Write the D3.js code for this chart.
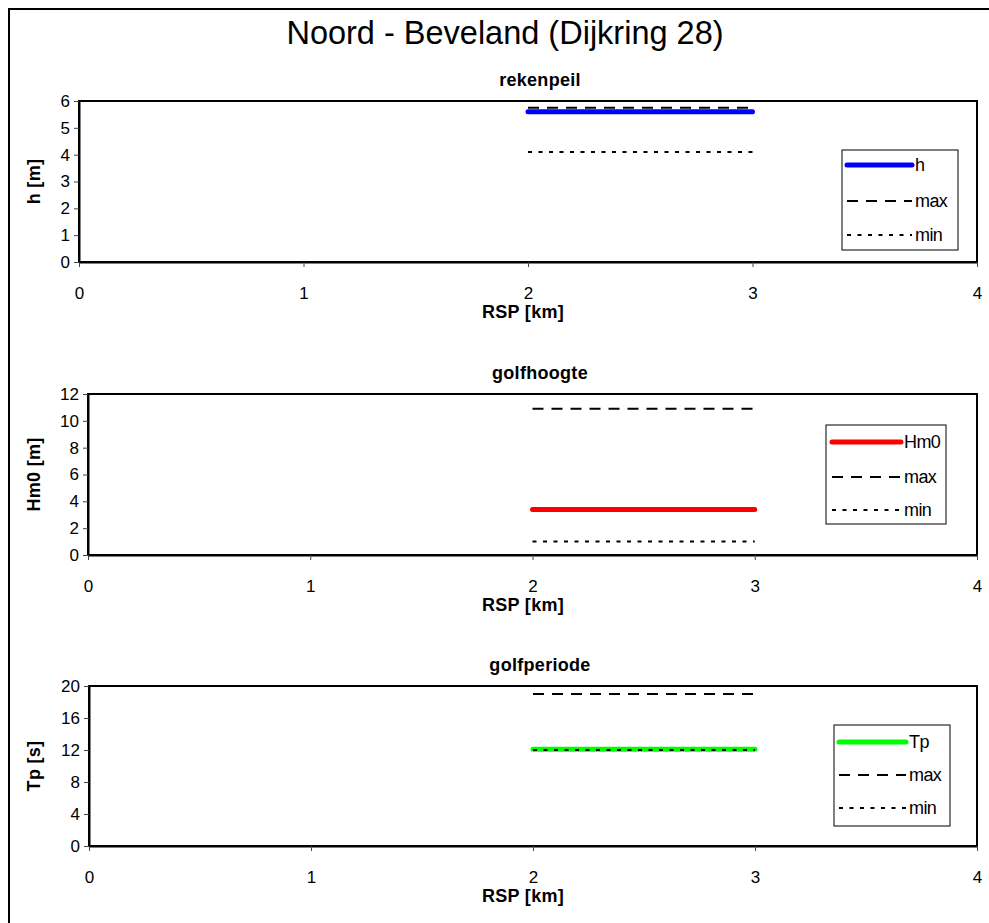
<!DOCTYPE html>
<html>
<head>
<meta charset="utf-8">
<script src="https://cdn.jsdelivr.net/npm/d3@7"></script>
<style>
  html, body { margin: 0; padding: 0; background: #fff; }
  svg { display: block; font-family: Arial, "Liberation Sans", sans-serif; }
</style>
</head>
<body>
<svg id="chart" width="989" height="923"></svg>
<script>
// Distance along the dike section (RSP, km)
const rsp = [2, 3];

// Rekenpeil (water level, m)
const hValues = [5.6, 5.6];
const hMax = [5.75, 5.75];
const hMin = [4.1, 4.1];

// Golfhoogte (significant wave height, m)
const hm0Values = [3.4, 3.4];
const hm0Max = [10.9, 10.9];
const hm0Min = [1.0, 1.0];

// Golfperiode (peak period, s)
const tpValues = [12.1, 12.1];
const tpMax = [19, 19];
const tpMin = [12.0, 12.0];

// Axis ticks
const xTicks = [0, 1, 2, 3, 4];
const hTicks = [0, 1, 2, 3, 4, 5, 6];
const hm0Ticks = [0, 2, 4, 6, 8, 10, 12];
const tpTicks = [0, 4, 8, 12, 16, 20];

const chartTitle = "Noord - Beveland (Dijkring 28)";

const panels = [
  {
    title: "rekenpeil", yLabel: "h [m]", name: "h", color: "#0000ff",
    values: hValues, max: hMax, min: hMin, yTicks: hTicks, yDomain: [0, 6],
    left: 79, right: 977, top: 101, bottom: 262,
    legend: { x: 842, y: 150, w: 116, h: 100, sx0: 847, sx1: 912, rows: [165, 201, 235] }
  },
  {
    title: "golfhoogte", yLabel: "Hm0 [m]", name: "Hm0", color: "#ff0000",
    values: hm0Values, max: hm0Max, min: hm0Min, yTicks: hm0Ticks, yDomain: [0, 12],
    left: 88, right: 977, top: 394, bottom: 555,
    legend: { x: 826, y: 425, w: 120, h: 99, sx0: 832, sx1: 901, rows: [442, 477, 510] }
  },
  {
    title: "golfperiode", yLabel: "Tp [s]", name: "Tp", color: "#00ff00",
    values: tpValues, max: tpMax, min: tpMin, yTicks: tpTicks, yDomain: [0, 20],
    left: 89, right: 977, top: 686, bottom: 846,
    legend: { x: 834, y: 725, w: 116, h: 101, sx0: 839, sx1: 906, rows: [742, 775, 808] }
  }
];

const svg = d3.select("#chart");

// Outer frame
svg.append("rect")
  .attr("x", 9).attr("y", 9).attr("width", 1000).attr("height", 1000)
  .attr("fill", "none").attr("stroke", "#000").attr("stroke-width", 2);

// Main title
svg.append("text")
  .attr("x", 505).attr("y", 44)
  .attr("text-anchor", "middle")
  .attr("font-size", 32.5)
  .text(chartTitle);

const dashStyle = "11,8";
const dotStyle = "4,6.5";

panels.forEach(p => {
  const x = d3.scaleLinear().domain([0, 4]).range([p.left, p.right]);
  const y = d3.scaleLinear().domain(p.yDomain).range([p.bottom, p.top]);
  const g = svg.append("g");

  // Plot area frame
  g.append("rect")
    .attr("x", p.left).attr("y", p.top)
    .attr("width", p.right - p.left).attr("height", p.bottom - p.top)
    .attr("fill", "none").attr("stroke", "#000").attr("stroke-width", 2);

  // Axes
  const xAxis = g.append("g")
    .attr("transform", `translate(0,${p.bottom})`)
    .call(d3.axisBottom(x).tickValues(xTicks).tickFormat(d3.format("d")).tickSizeOuter(0).tickSizeInner(5).tickPadding(20));
  const yAxis = g.append("g")
    .attr("transform", `translate(${p.left},0)`)
    .call(d3.axisLeft(y).tickValues(p.yTicks).tickFormat(d3.format("d")).tickSizeOuter(0).tickSizeInner(5).tickPadding(4));
  [xAxis, yAxis].forEach(a => {
    a.select(".domain").attr("stroke", "#000").attr("stroke-width", 2);
    a.selectAll(".tick line").attr("stroke", "#444").attr("stroke-width", 1);
    a.selectAll(".tick text").attr("font-size", 17).attr("fill", "#000")
      .attr("font-family", "Arial, 'Liberation Sans', sans-serif");
  });

  // Panel title and axis labels
  g.append("text")
    .attr("x", 540).attr("y", p.top - 15)
    .attr("text-anchor", "middle").attr("font-size", 18).attr("font-weight", "bold")
    .attr("letter-spacing", 0.3)
    .text(p.title);
  g.append("text")
    .attr("x", 523).attr("y", p.bottom + 56)
    .attr("text-anchor", "middle").attr("font-size", 18).attr("font-weight", "bold")
    .attr("letter-spacing", 0.3)
    .text("RSP [km]");
  g.append("text")
    .attr("transform", `translate(40,${(p.top + p.bottom) / 2}) rotate(-90)`)
    .attr("text-anchor", "middle").attr("font-size", 18).attr("font-weight", "bold")
    .attr("letter-spacing", 0.3)
    .text(p.yLabel);

  const line = d3.line().x((d, i) => x(rsp[i])).y(d => y(d));

  const series = [
    { key: "value", data: p.values, stroke: p.color, width: 5, dash: null, cap: "round", label: p.name },
    { key: "max", data: p.max, stroke: "#000", width: 2, dash: dashStyle, cap: "butt", label: "max" },
    { key: "min", data: p.min, stroke: "#000", width: 2, dash: dotStyle, cap: "butt", label: "min" }
  ];

  series.forEach(s => {
    g.append("path")
      .datum(s.data)
      .attr("d", line)
      .attr("fill", "none")
      .attr("stroke", s.stroke)
      .attr("stroke-width", s.width)
      .attr("stroke-linecap", s.cap)
      .attr("stroke-dasharray", s.dash);
  });

  // Legend
  const L = p.legend;
  g.append("rect")
    .attr("x", L.x).attr("y", L.y).attr("width", L.w).attr("height", L.h)
    .attr("fill", "#fff").attr("stroke", "#000").attr("stroke-width", 1);
  series.forEach((s, i) => {
    const ry = L.rows[i];
    g.append("line")
      .attr("x1", L.sx0).attr("x2", L.sx1).attr("y1", ry).attr("y2", ry)
      .attr("stroke", s.stroke).attr("stroke-width", s.width)
      .attr("stroke-linecap", s.cap).attr("stroke-dasharray", s.dash);
    g.append("text")
      .attr("x", L.sx1 + 3).attr("y", ry)
      .attr("dy", "0.35em").attr("font-size", 18)
      .attr("letter-spacing", -0.6)
      .text(s.label);
  });
});
</script>
</body>
</html>
